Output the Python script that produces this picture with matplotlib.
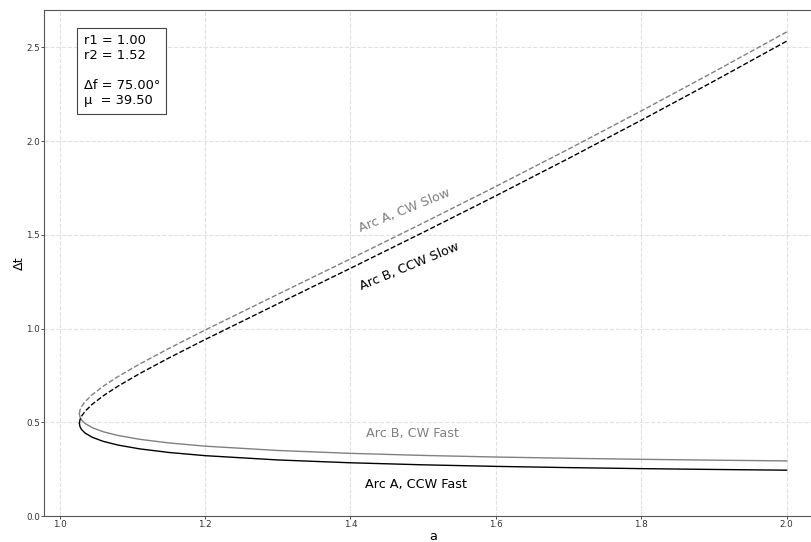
import matplotlib.pyplot as plt

# ==================================================
# Data: time of flight vs semi-major axis
# ==================================================
a_vals = [1.0271, 1.028, 1.030, 1.035, 1.045, 1.06, 1.08, 1.11, 1.15, 1.2,
          1.3, 1.4, 1.5, 1.6, 1.7, 1.8, 1.9, 2.0]

ccw_fast = [0.4947, 0.4762, 0.4618, 0.4424, 0.4197, 0.3982, 0.3787, 0.3582, 0.3391, 0.3220,
            0.2991, 0.2840, 0.2731, 0.2648, 0.2582, 0.2528, 0.2483, 0.2445]
ccw_slow = [0.4947, 0.5144, 0.5319, 0.5590, 0.5969, 0.6415, 0.6922, 0.7598, 0.8429, 0.9414,
            1.1322, 1.3217, 1.5134, 1.7086, 1.9079, 2.1118, 2.3204, 2.5337]
cw_fast = [0.5460, 0.5276, 0.5132, 0.4937, 0.4710, 0.4495, 0.4299, 0.4093, 0.3900, 0.3727,
           0.3496, 0.3343, 0.3232, 0.3147, 0.3080, 0.3025, 0.2979, 0.2940]
cw_slow = [0.5460, 0.5658, 0.5832, 0.6103, 0.6483, 0.6928, 0.7433, 0.8109, 0.8938, 0.9922,
           1.1827, 1.3720, 1.5635, 1.7585, 1.9577, 2.1615, 2.3699, 2.5831]

info_text = "r1 = 1.00\nr2 = 1.52\n\nΔf = 75.00°\nμ  = 39.50"

# ==================================================
# Figure
# ==================================================
W, H = 812, 542
fig = plt.figure(figsize=(W / 100, H / 100), dpi=100)
ax = fig.add_axes([44 / W, 26 / H, 778 / W, 506 / H])

ax.plot(a_vals, cw_slow, color='gray', linestyle='--', linewidth=1.0)
ax.plot(a_vals, cw_fast, color='gray', linestyle='-', linewidth=1.0)
ax.plot(a_vals, ccw_slow, color='black', linestyle='--', linewidth=1.0)
ax.plot(a_vals, ccw_fast, color='black', linestyle='-', linewidth=1.0)

ax.set_ylim(bottom=0)

fs = 9.2
ax.text(1.414, 1.516, "Arc A, CW Slow", color='gray', fontsize=fs, rotation=22,
        ha='left', va='baseline', rotation_mode='anchor')
ax.text(1.415, 1.208, "Arc B, CCW Slow", color='black', fontsize=fs, rotation=22.5,
        ha='left', va='baseline', rotation_mode='anchor')
ax.text(1.421, 0.422, "Arc B, CW Fast", color='gray', fontsize=fs,
        ha='left', va='baseline')
ax.text(1.4195, 0.150, "Arc A, CCW Fast", color='black', fontsize=fs,
        ha='left', va='baseline')

# parameter box, top left
ax.text(0.0508, 0.952, info_text, transform=ax.transAxes, fontsize=9.4,
        ha='left', va='top',
        bbox=dict(boxstyle='square,pad=0.5', facecolor='white', edgecolor='#444444', linewidth=0.8))

ax.set_xlabel("a", fontsize=fs, labelpad=0.5)
ax.set_ylabel("Δt", fontsize=fs, labelpad=0)

ax.grid(True, linestyle='--', color='#e0e0e0', linewidth=0.8)
ax.tick_params(labelsize=6.3, length=2.2, width=0.6, pad=0.8, colors='#333333')
for side in ['left', 'bottom', 'top', 'right']:
    ax.spines[side].set_color('#555555')
    ax.spines[side].set_linewidth(0.8)

fig.savefig("out.png", dpi=100)
